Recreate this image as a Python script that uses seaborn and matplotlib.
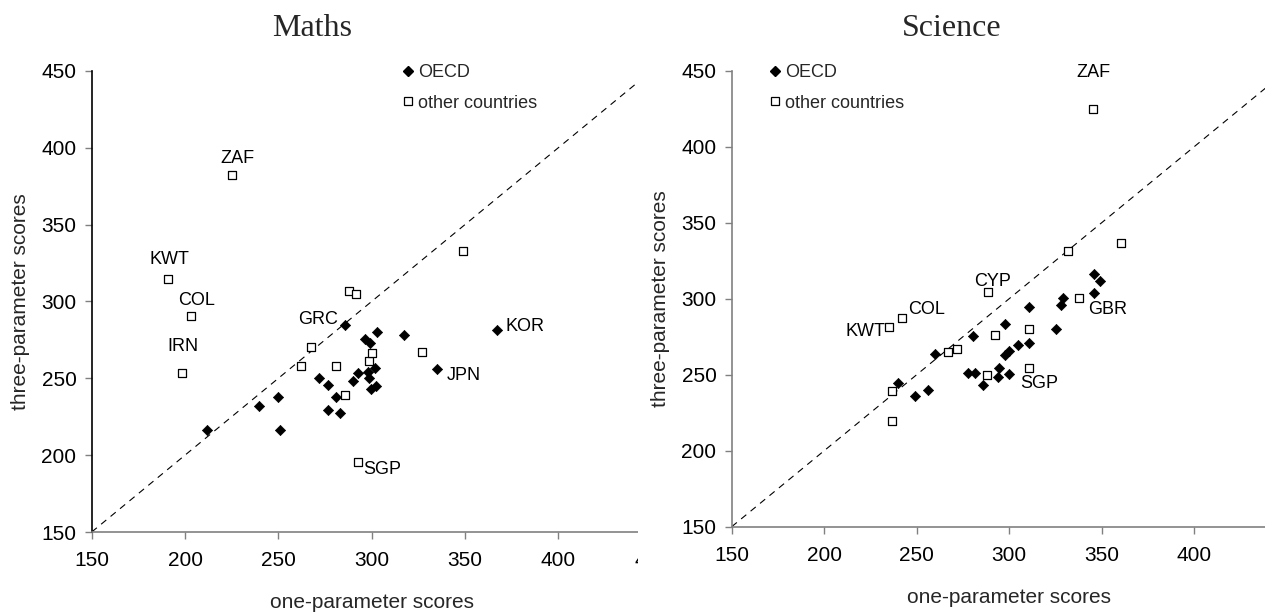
import matplotlib
matplotlib.use("Agg")
import matplotlib.pyplot as plt
import seaborn as sns
import pandas as pd
from matplotlib.lines import Line2D
from matplotlib.transforms import Bbox, TransformedBbox

# ---------------- data ----------------
maths_oecd_x = [212.0, 239.8, 250.0, 250.9, 271.6, 276.5, 276.5, 280.9, 283.2, 285.7, 290.2, 292.5,
                296.5, 298.2, 298.8, 299.1, 299.7, 301.8, 302.2, 302.7, 317.4, 335.2, 367.2]
maths_oecd_y = [216.4, 232.2, 238.1, 216.2, 250.5, 245.5, 229.4, 238.1, 227.7, 284.8, 248.3, 253.3,
                275.6, 254.0, 250.5, 272.9, 243.1, 257.0, 245.0, 280.4, 278.3, 255.9, 281.5]
maths_oecd_lab = ["", "", "", "", "", "", "", "", "", "GRC", "", "",
                  "", "", "", "", "", "", "", "", "", "JPN", "KOR"]

maths_other_x = [225.0, 190.7, 203.2, 198.4, 262.2, 267.7, 280.9, 285.7, 287.9, 291.8, 298.6, 300.4,
                 326.8, 349.1, 292.5]
maths_other_y = [382.0, 314.5, 290.6, 253.3, 257.9, 270.2, 257.9, 239.0, 306.9, 305.0, 261.5, 266.3,
                 267.2, 333.1, 195.8]
maths_other_lab = ["ZAF", "KWT", "COL", "IRN", "", "", "", "", "", "", "", "",
                   "", "", "SGP"]

sci_oecd_x = [239.9, 249.1, 255.9, 259.9, 277.6, 280.3, 281.7, 285.7, 294.1, 294.6, 297.7, 297.7,
              300.0, 300.0, 304.9, 310.9, 310.9, 325.5, 327.8, 328.9, 346.0, 346.0, 348.9]
sci_oecd_y = [244.7, 235.8, 240.1, 263.6, 251.3, 275.5, 251.3, 243.0, 248.7, 254.6, 263.0, 283.4,
              265.6, 250.5, 269.5, 271.0, 294.7, 279.9, 295.7, 300.7, 303.6, 316.0, 311.6]
sci_oecd_lab = [""] * 20 + ["GBR", "", ""]

sci_other_x = [345.3, 235.2, 242.1, 288.5, 310.9, 236.6, 236.6, 266.8, 271.6, 287.8, 292.3, 310.9,
               331.8, 337.9, 360.4]
sci_other_y = [425.0, 281.6, 287.3, 304.2, 254.6, 239.5, 219.7, 264.7, 266.7, 249.6, 276.1, 279.9,
               331.6, 300.5, 336.4]
sci_other_lab = ["ZAF", "KWT", "COL", "CYP", "SGP", "", "", "", "", "", "", "",
                 "", "", ""]

maths_xticks = [150, 200, 250, 300, 350, 400, 450]
sci_xticks = [150, 200, 250, 300, 350, 400]
yticks = [150, 200, 250, 300, 350, 400, 450]
group_names = ["OECD", "other countries"]
titles = ["Maths", "Science"]
xlabel = "one-parameter scores"
ylabel = "three-parameter scores"

# label offsets in pixels (dx, dy, ha)
maths_offsets = {"ZAF": (6, 17, "center"), "KWT": (2, 20, "center"), "COL": (6, 15, "center"),
                 "IRN": (1, 27, "center"), "GRC": (-7, 5, "right"), "KOR": (9, 3, "left"),
                 "JPN": (9, -6, "left"), "SGP": (6, -8, "left")}
sci_offsets = {"ZAF": (0, 36, "center"), "CYP": (5, 11, "center"), "COL": (6, 9, "left"),
               "KWT": (-4, -5, "right"), "GBR": (-6, -16, "left"), "SGP": (-9, -16, "left")}

# ---------------- figure ----------------
sns.set_theme(style="white")
plt.rcParams["font.family"] = ["Liberation Sans", "DejaVu Sans"]

W, H = 1265, 612
fig = plt.figure(figsize=(W / 100, H / 100), dpi=100)


def px_axes(x0, x1, ytop, ybot):
    return fig.add_axes([x0 / W, (H - ybot) / H, (x1 - x0) / W, (ybot - ytop) / H])


ax1 = px_axes(91.7, 91.7 + 300 * 1.866, 71.0, 532.0)
ax2 = px_axes(731.7, 731.7 + 300 * 1.85, 70.7, 526.7)

panels = [
    (ax1, maths_oecd_x, maths_oecd_y, maths_oecd_lab, maths_other_x, maths_other_y, maths_other_lab,
     maths_offsets, maths_xticks),
    (ax2, sci_oecd_x, sci_oecd_y, sci_oecd_lab, sci_other_x, sci_other_y, sci_other_lab, sci_offsets,
     sci_xticks),
]

dash_lines = []
for ax, ox, oy, olab, tx, ty, tlab, offs, xt in panels:
    df_o = pd.DataFrame({"x": ox, "y": oy, "lab": olab})
    df_t = pd.DataFrame({"x": tx, "y": ty, "lab": tlab})
    ln, = ax.plot([150, 450], [150, 450], color="black", lw=0.8, ls=(0, (6, 5)), zorder=1)
    dash_lines.append(ln)
    sns.scatterplot(data=df_t, x="x", y="y", ax=ax, marker="s", s=32, color="white",
                    edgecolor="black", linewidth=0.9, zorder=3, legend=False)
    sns.scatterplot(data=df_o, x="x", y="y", ax=ax, marker="D", s=27, color="black",
                    edgecolor="black", linewidth=0.5, zorder=4, legend=False)
    for df in (df_o, df_t):
        for _, r in df.iterrows():
            if r["lab"]:
                dx, dy, ha = offs[r["lab"]]
                ax.annotate(r["lab"], (r["x"], r["y"]), xytext=(dx, dy), textcoords="offset pixels",
                            ha=ha, va="center", fontsize=13, color="black")
    ax.set_xlim(150, 450)
    ax.set_ylim(150, 450)
    ax.set_xticks(xt)
    ax.set_yticks(yticks)
    ax.set_xlabel(xlabel, fontsize=15, labelpad=16.5)
    ax.set_ylabel(ylabel, fontsize=15, labelpad=8)
    ax.tick_params(axis="both", which="major", labelsize=15, direction="out", length=5,
                   width=1.0, color="#808080", labelcolor="black", bottom=True, left=True)
    ax.tick_params(axis="x", pad=9)
    ax.tick_params(axis="y", pad=6)
    for side in ("top", "right"):
        ax.spines[side].set_visible(False)
    for side in ("left", "bottom"):
        ax.spines[side].set_color("#808080")
        ax.spines[side].set_linewidth(1.2)
    ax.set_facecolor("white")

ax1.spines["left"].set_color("black")

# legends
handles = [Line2D([], [], marker="D", ls="none", color="black", markersize=5),
           Line2D([], [], marker="s", ls="none", markerfacecolor="white", markeredgecolor="black",
                  markeredgewidth=0.9, markersize=6)]
for ax, mx in ((ax1, 408), (ax2, 775)):
    fs_px = 13 * 100 / 72
    hl = 0.6
    bx = (mx - hl * fs_px / 2) / W
    by = (H - 64) / H
    ax.legend(handles, group_names, loc="upper left", bbox_to_anchor=(bx, by),
              bbox_transform=fig.transFigure, frameon=False, fontsize=13, handlelength=hl,
              handletextpad=0.25, borderpad=0, borderaxespad=0, labelspacing=0.75)

# titles
fig.text(312 / W, 1 - 29 / H, titles[0], ha="center", va="center", fontsize=23,
         family=["Liberation Serif", "DejaVu Serif"])
fig.text(952 / W, 1 - 29 / H, titles[1], ha="center", va="center", fontsize=23,
         family=["Liberation Serif", "DejaVu Serif"])

# the left panel is cropped at the middle of the picture
clip = TransformedBbox(Bbox([[0, 0], [638 / W, 1]]), fig.transFigure)
fig.canvas.draw()
for art in [ax1.spines["bottom"], dash_lines[0]]:
    art.set_clip_box(clip)
    art.set_clip_on(True)
for t in ax1.xaxis.get_major_ticks():
    for art in (t.label1, t.tick1line, t.gridline):
        art.set_clip_box(clip)
        art.set_clip_on(True)

fig.savefig("out.png", dpi=100, facecolor="white")
